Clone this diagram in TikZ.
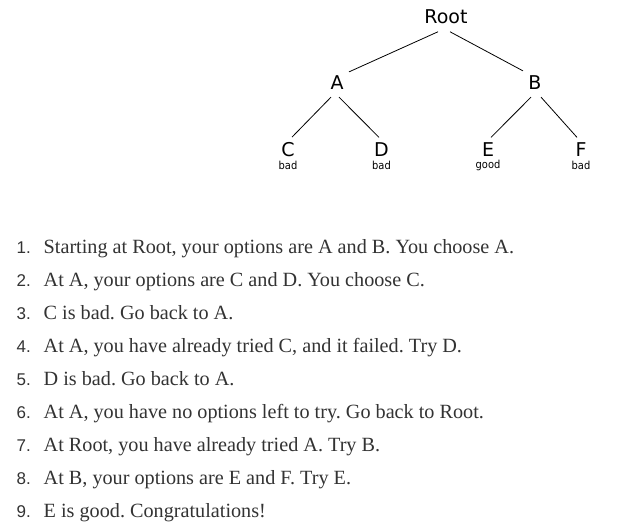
\documentclass[tikz,border=0pt]{standalone}
\usepackage{fontspec}
\setmainfont{Liberation Serif}
\newfontfamily\treefont{DejaVu Sans}
\newfontfamily\notefont{DejaVu Sans Condensed}
\newfontfamily\numfont{Liberation Sans}
\definecolor{ink}{HTML}{333333}
\definecolor{treeink}{HTML}{000000}
\frenchspacing

\begin{document}
\begin{tikzpicture}[x=1pt, y=-1pt,
  tnode/.style={inner sep=0pt, font=\treefont\fontsize{19}{19}\selectfont, text=treeink},
  tnote/.style={inner sep=0pt, font=\notefont\fontsize{11}{11}\selectfont, text=treeink},
  branch/.style={treeink, line width=0.8pt},
  itemnum/.style={inner sep=0pt, anchor=base east, font=\numfont\fontsize{17}{17}\selectfont, text=ink},
  itemtext/.style={inner sep=0pt, anchor=base west, font=\fontsize{20.2}{20.2}\selectfont, text=ink},
]

% Background
\useasboundingbox (0,0) rectangle (620,531);
\fill[white] (0,0) rectangle (620,531);

% =============================================
% Tree
% =============================================
\node[tnode] (root) at (446,16.5) {Root};
\node[tnode] (A) at (337,83) {A};
\node[tnode] (B) at (535,83) {B};
\node[tnode] (C) at (288,149.5) {C};
\node[tnode] (D) at (381.5,149.5) {D};
\node[tnode] (E) at (488,149.5) {E};
\node[tnode] (F) at (581,149.5) {F};

% leaf notes
\node[tnote] (Cnote) at (288,165) {bad};
\node[tnote] (Dnote) at (381.5,165) {bad};
\node[tnote] (Enote) at (488,165.5) {good};
\node[tnote] (Fnote) at (581,165) {bad};

% branches
\draw[branch] ([shift={(-8,8)}]root.south) -- ([shift={(12,-4)}]A.north);
\draw[branch] ([shift={(4,8)}]root.south) -- ([shift={(-12,-5)}]B.north);
\draw[branch] ([shift={(-6,7)}]A.south) -- ([shift={(4,-5)}]C.north);
\draw[branch] ([shift={(2,7)}]A.south) -- ([shift={(-2.5,-5)}]D.north);
\draw[branch] ([shift={(-4,7)}]B.south) -- ([shift={(3,-5)}]E.north);
\draw[branch] ([shift={(6,7)}]B.south) -- ([shift={(-4,-5)}]F.north);

% =============================================
% Numbered steps
% =============================================
\foreach \i/\txt in {
  1/{Starting at Root, your options are A and B. You choose A.},
  2/{At A, your options are C and D. You choose C.},
  3/{C is bad. Go back to A.},
  4/{At A, you have already tried C, and it failed. Try D.},
  5/{D is bad. Go back to A.},
  6/{At A, you have no options left to try. Go back to Root.},
  7/{At Root, you have already tried A. Try B.},
  8/{At B, your options are E and F. Try E.},
  9/{E is good. Congratulations!}} {
  \node[itemnum] (num\i) at (31, {253+33*(\i-1)}) {\i.};
  \node[itemtext] (step\i) at (43.5, {253+33*(\i-1)}) {\txt};
}

\end{tikzpicture}
\end{document}
